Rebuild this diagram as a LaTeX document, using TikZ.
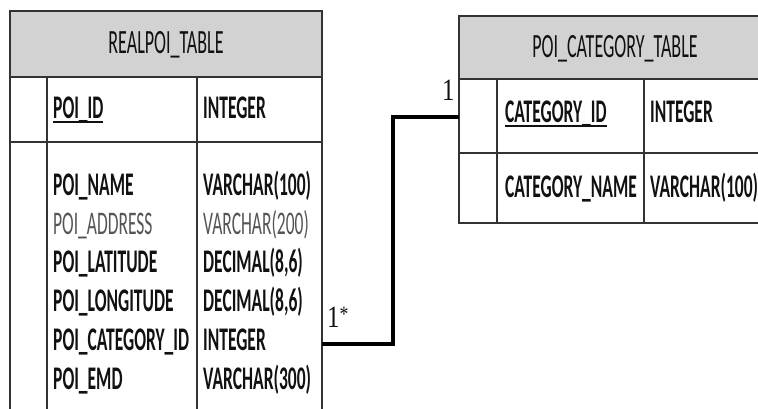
\documentclass[tikz,border=0pt]{standalone}
\usepackage{fontspec}
\setmainfont{Carlito}[FakeStretch=0.53]
\newfontfamily\numfont{Liberation Serif}[FakeStretch=0.8]
\definecolor{rule}{HTML}{333333}
\definecolor{headfill}{HTML}{D2D2D2}
\definecolor{ink}{HTML}{111111}
\definecolor{softink}{HTML}{555555}
\newcommand\pkey[1]{\setbox0\hbox{#1}\rlap{\raisebox{-5pt}{\rule{\wd0}{2pt}}}\box0}
\tikzset{
  grid/.style={draw=rule, line width=1.8pt},
  header/.style={grid, fill=headfill},
  title/.style={font=\fontsize{34}{34}\selectfont, text=ink, inner sep=0pt, anchor=base},
  field/.style={font=\fontsize{33}{33}\selectfont\bfseries, text=ink, inner sep=0pt, anchor=base west},
  softfield/.style={font=\fontsize{33}{33}\selectfont, text=softink, inner sep=0pt, anchor=base west},
  mult/.style={font=\fontsize{31}{31}\selectfont\numfont, text=ink, inner sep=0pt, anchor=base west},
  conn/.style={draw=black, line width=3.2pt}
}
\begin{document}
\begin{tikzpicture}[x=1pt,y=-1pt]
\useasboundingbox (0,0) rectangle (758,408);
\clip (0,0) rectangle (758,408);
\fill[white] (0,0) rectangle (758,408);

% REALPOI_TABLE
\draw[header] (10,11) rectangle (322,77);
\draw[grid] (10,77) rectangle (322,430);
\draw[grid] (10,142) -- (322,142);
\draw[grid] (47,77) -- (47,430);
\draw[grid] (197,77) -- (197,430);
\node[title] (lt-title) at (166,53) {REALPOI\_TABLE};
\node[field] (lt-id) at (53,118) {\pkey{POI\_ID}};
\node[field] (lt-idt) at (203,118) {INTEGER};
\node[field] (lt-f1) at (53,195) {POI\_NAME};
\node[field] (lt-t1) at (203,195) {VARCHAR(100)};
\node[softfield] (lt-f2) at (53,234) {POI\_ADDRESS};
\node[softfield] (lt-t2) at (203,234) {VARCHAR(200)};
\node[field] (lt-f3) at (53,272) {POI\_LATITUDE};
\node[field] (lt-t3) at (203,272) {DECIMAL(8,6)};
\node[field] (lt-f4) at (53,311) {POI\_LONGITUDE};
\node[field] (lt-t4) at (203,311) {DECIMAL(8,6)};
\node[field] (lt-f5) at (53,350) {POI\_CATEGORY\_ID};
\node[field] (lt-t5) at (203,350) {INTEGER};
\node[field] (lt-f6) at (53,389) {POI\_EMD};
\node[field] (lt-t6) at (203,389) {VARCHAR(300)};

% POI_CATEGORY_TABLE
\draw[header] (459,16) rectangle (771,79);
\draw[grid] (459,79) rectangle (771,223);
\draw[grid] (459,153) -- (771,153);
\draw[grid] (497,79) -- (497,223);
\draw[grid] (644,79) -- (644,223);
\node[title] (rt-title) at (615,57) {POI\_CATEGORY\_TABLE};
\node[field] (rt-id) at (505,122) {\pkey{CATEGORY\_ID}};
\node[field] (rt-idt) at (650,122) {INTEGER};
\node[field] (rt-f1) at (505,197) {CATEGORY\_NAME};
\node[field] (rt-t1) at (650,197) {VARCHAR(100)};

% relationship POI_CATEGORY_ID -> CATEGORY_ID
\coordinate (rt-pk) at (459,117);
\coordinate (lt-fk) at (322,344);
\draw[conn] (rt-pk) -- ++(-66,0) |- (lt-fk);
\node[mult] (one) at (442,100) {1};
\node[mult] (many) at (327,327) {1\raisebox{6pt}{\fontsize{22}{22}\selectfont*}};
\end{tikzpicture}
\end{document}
